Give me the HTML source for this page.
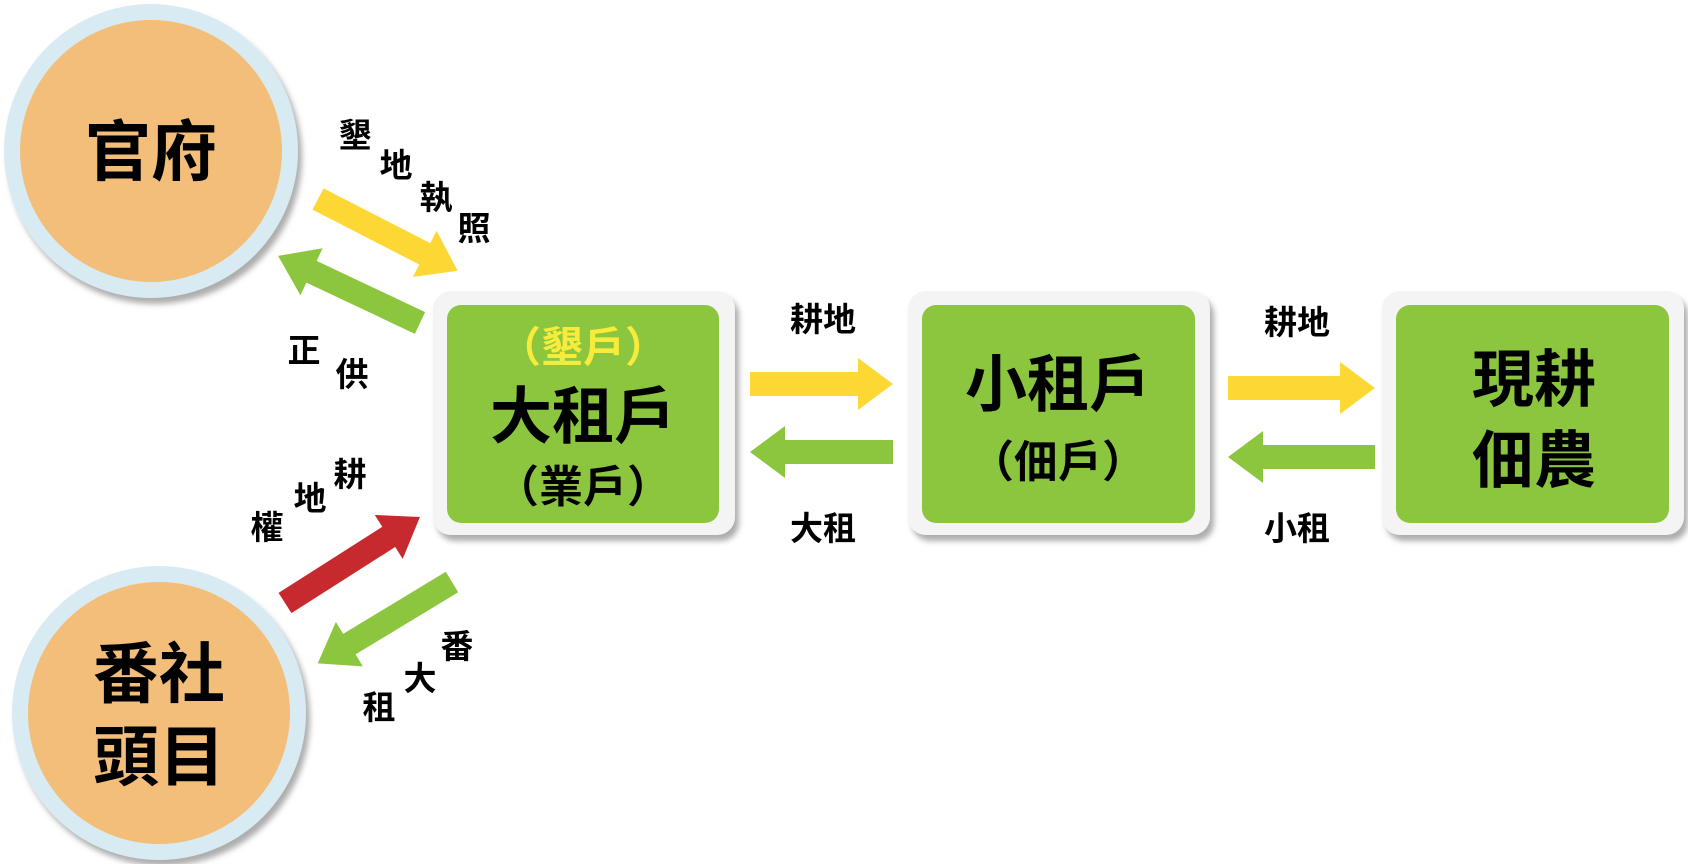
<!DOCTYPE html>
<html><head><meta charset="utf-8">
<style>
html,body{margin:0;padding:0;background:#fff;}
svg{display:block;}
text{font-family:"Liberation Sans","Noto Sans CJK TC","Noto Sans CJK SC",sans-serif;font-weight:bold;}
</style></head>
<body>
<svg width="1688" height="864" viewBox="0 0 1688 864" xmlns="http://www.w3.org/2000/svg">
<defs>
<filter id="sh" x="-10%" y="-10%" width="130%" height="130%"><feDropShadow dx="4" dy="6" stdDeviation="3" flood-color="#777" flood-opacity="0.6"/></filter>
</defs>
<g filter="url(#sh)">
<circle cx="151" cy="151" r="147" fill="#d8ebf2"/>
<circle cx="159" cy="713" r="147" fill="#d8ebf2"/>
</g>
<circle cx="151" cy="151" r="131" fill="#f3be79"/>
<circle cx="159" cy="713" r="131" fill="#f3be79"/>
<text x="151" y="175" font-size="66" text-anchor="middle">官府</text>
<text x="159" y="697" font-size="66" text-anchor="middle">番社</text>
<text x="159" y="780" font-size="66" text-anchor="middle">頭目</text>

<g filter="url(#sh)">
<rect x="433" y="291" width="302" height="244" rx="18" fill="#f4f4f4"/>
<rect x="908" y="291" width="302" height="244" rx="18" fill="#f4f4f4"/>
<rect x="1382" y="291" width="302" height="244" rx="18" fill="#f4f4f4"/>
</g>
<rect x="447" y="305" width="272" height="218" rx="14" fill="#8cc63f"/>
<rect x="922" y="305" width="273" height="218" rx="14" fill="#8cc63f"/>
<rect x="1396" y="305" width="273" height="218" rx="14" fill="#8cc63f"/>

<text x="583" y="362" font-size="42" text-anchor="middle" fill="#f7ec3c" font-weight="normal">（墾戶）</text>
<text x="583" y="438" font-size="62" text-anchor="middle">大租戶</text>
<text x="583" y="502" font-size="44" text-anchor="middle" font-weight="normal">（業戶）</text>

<text x="1058" y="406" font-size="62" text-anchor="middle" font-weight="normal">小租戶</text>
<text x="1058" y="477" font-size="44" text-anchor="middle" font-weight="normal">（佃戶）</text>

<text x="1534" y="401" font-size="62" text-anchor="middle">現耕</text>
<text x="1534" y="482" font-size="62" text-anchor="middle">佃農</text>

<polygon points="750,372 858,372 858,358 893,384 858,410 858,396 750,396" fill="#fdd835"/>
<polygon points="893,440 785,440 785,426 750,452 785,478 785,464 893,464" fill="#8cc63f"/>
<polygon points="1228,376 1340,376 1340,362 1375,388 1340,414 1340,400 1228,400" fill="#fdd835"/>
<polygon points="1375,445 1263,445 1263,431 1228,457 1263,483 1263,469 1375,469" fill="#8cc63f"/>

<g transform="translate(318,199) rotate(27.2)"><polygon points="0,-12 120,-12 120,-26 157,0 120,26 120,12 0,12" fill="#fdd835"/></g>
<g transform="translate(420,323) rotate(205.3)"><polygon points="0,-12 120,-12 120,-26 157,0 120,26 120,12 0,12" fill="#8cc63f"/></g>
<g transform="translate(285,603) rotate(-32.5)"><polygon points="0,-12 123,-12 123,-26 160,0 123,26 123,12 0,12" fill="#c62a2f"/></g>
<g transform="translate(452,582) rotate(148.8)"><polygon points="0,-12 120,-12 120,-26 157,0 120,26 120,12 0,12" fill="#8cc63f"/></g>

<g font-size="33" text-anchor="middle">
<text x="823" y="331">耕地</text>
<text x="823" y="540">大租</text>
<text x="1297" y="334">耕地</text>
<text x="1297" y="540">小租</text>
<text x="355" y="147">墾</text>
<text x="396" y="177">地</text>
<text x="436" y="209">執</text>
<text x="474" y="240">照</text>
<text x="304" y="362">正</text>
<text x="352" y="386">供</text>
<text x="350" y="486">耕</text>
<text x="310" y="510">地</text>
<text x="267" y="539">權</text>
<text x="457" y="658">番</text>
<text x="420" y="690">大</text>
<text x="379" y="719">租</text>
</g>
</svg>
</body></html>
